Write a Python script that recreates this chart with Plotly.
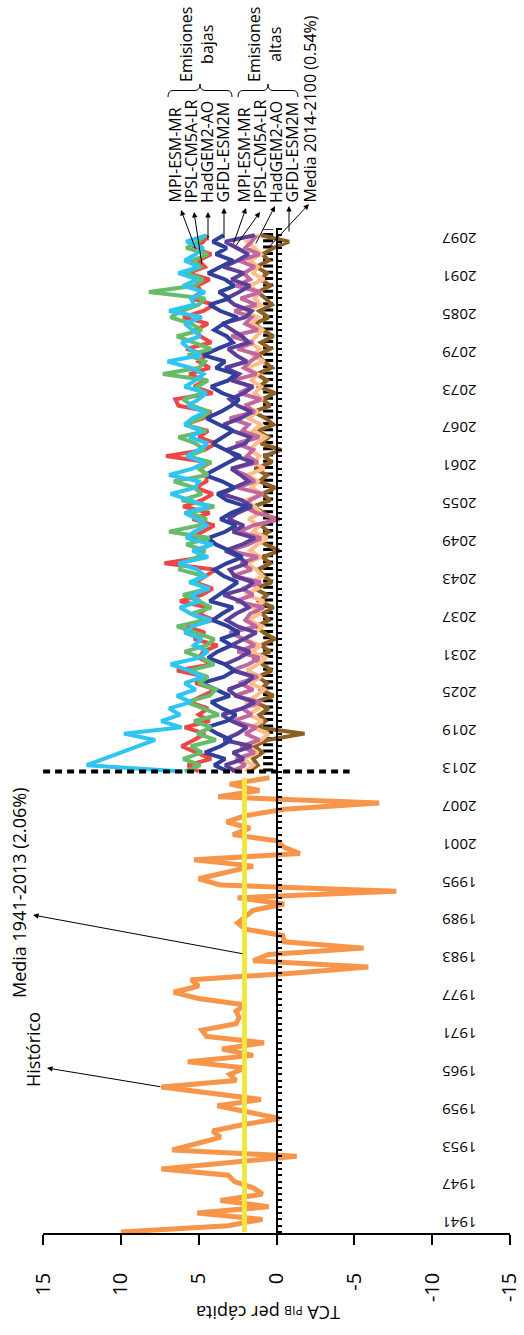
import plotly.graph_objects as go

# ---------------- data ----------------
hist_years = list(range(1941, 2014))
hist_values = [
    10.0, 3.1, 0.9, 5.1, 0.5, 3.6, 0.9, 1.5, 2.7, 3.1,
    7.4, 2.6, -1.3, 6.7, 5.0, 3.6, 4.1, 2.2, -0.2, 1.8,
    3.8, 1.0, 4.0, 7.4, 2.6, 3.0, 2.0, 5.7, 1.5, 3.5,
    0.8, 4.5, 4.8, 2.6, 2.4, 2.6, 2.0, 5.0, 6.6, 5.0,
    5.5, -1.0, -5.9, 1.5, 0.5, -5.6, -0.5, -0.4, 2.0, 2.5,
    2.0, 1.5, -0.5, 2.5, -7.7, 3.6, 5.0, 3.3, 1.5, 5.3,
    -1.5, -0.5, 0.0, 2.8, 1.7, 3.2, 2.0, -0.5, -6.6, 3.75,
    1.1, 3.0, 0.45,
]
hist_mean = 2.06          # media 1941-2013
proj_mean = 0.54          # media 2014-2100
split_year = 2014
proj_years = list(range(2014, 2100))

low_mpi = [
    6.0, 12.2, 11.1, 10.0, 8.9, 7.8, 9.8, 6.1, 7.4, 6.2,
    6.9, 5.5, 6.4, 5.2, 5.9, 4.7, 5.6, 6.8, 5.0, 4.4,
    5.3, 4.8, 5.9, 5.4, 4.2, 5.5, 6.2, 4.9, 5.5, 4.3,
    5.6, 4.6, 5.1, 6.3, 4.4, 5.4, 4.1, 5.8, 5.3, 4.5,
    5.1, 5.9, 4.3, 5.5, 6.8, 5.2, 5.0, 6.9, 5.4, 4.6,
    5.8, 5.0, 4.4, 5.6, 4.8, 5.9, 5.4, 4.6, 5.7, 5.0,
    4.5, 5.9, 5.2, 4.7, 5.5, 7.0, 4.9, 5.6, 6.1, 4.9,
    5.4, 5.9, 4.8, 6.9, 5.3, 5.5, 4.6, 6.0, 5.1, 6.3,
    5.0, 5.9, 5.2, 4.7, 5.8, 4.5,
]
low_ipsl = [
    5.0, 5.7, 4.2, 5.1, 6.1, 5.3, 4.6, 5.9, 4.3, 5.0,
    4.4, 5.6, 4.8, 3.9, 5.2, 4.5, 6.4, 4.1, 5.0, 4.7,
    3.8, 5.3, 4.6, 5.8, 4.0, 5.0, 4.4, 6.2, 4.8, 4.1,
    5.2, 4.5, 3.9, 7.2, 4.6, 5.1, 4.2, 5.5, 4.7, 4.0,
    5.4, 4.3, 6.0, 4.8, 4.1, 5.2, 4.5, 4.5, 4.9, 4.3,
    7.1, 4.6, 3.9, 5.0, 4.4, 5.9, 4.7, 4.2, 6.3, 6.5,
    4.1, 5.3, 4.6, 5.6, 4.3, 5.0, 4.5, 5.8, 4.2, 4.9,
    5.2, 4.4, 6.0, 4.7, 4.0, 5.5, 4.8, 5.1, 4.3, 5.7,
    4.6, 5.0, 4.2, 5.4, 4.7, 4.4,
]
low_hadgem = [
    5.9, 4.9, 6.0, 4.8, 5.5, 3.9, 5.1, 4.2, 5.3, 3.7,
    4.7, 5.8, 4.3, 3.9, 5.0, 4.4, 5.6, 4.0, 4.8, 5.9,
    4.5, 4.0, 5.2, 6.4, 4.6, 5.5, 4.2, 5.0, 6.0, 4.4,
    5.3, 4.7, 6.2, 6.1, 5.1, 4.6, 5.8, 4.3, 6.9, 5.0,
    4.5, 5.6, 4.0, 6.1, 4.8, 5.3, 6.6, 4.4, 5.0, 4.2,
    5.7, 4.6, 5.2, 6.3, 4.5, 5.9, 4.9, 4.3, 5.4, 6.0,
    4.7, 5.1, 4.4, 7.3, 5.0, 4.6, 5.7, 4.2, 5.3, 6.4,
    4.8, 5.5, 6.8, 6.1, 5.0, 4.6, 8.2, 5.3, 4.7, 5.9,
    4.9, 5.4, 4.4, 5.8, 5.0, 4.6,
]
low_gfdl = [
    3.1, 4.0, 3.3, 4.6, 3.6, 2.9, 3.8, 4.5, 3.2, 2.6,
    3.5, 4.2, 3.0, 3.9, 4.8, 3.4, 2.7, 3.3, 4.4, 3.8,
    2.9, 3.6, 2.4, 3.1, 4.1, 3.5, 2.8, 4.3, 3.7, 3.0,
    2.5, 3.4, 4.0, 3.2, 2.2, 3.0, 3.9, 4.4, 3.3, 2.6,
    3.6, 2.9, 1.9, 3.2, 3.8, 2.7, 3.5, 4.6, 3.9, 3.1,
    2.3, 3.3, 4.1, 3.4, 2.8, 3.7, 4.5, 3.6, 2.9, 2.4,
    3.5, 4.2, 3.1, 2.6, 3.9, 3.3, 4.7, 3.8, 2.8, 3.2,
    4.0, 3.4, 2.5, 3.6, 4.3, 3.0, 3.7, 2.7, 3.3, 4.4,
    3.6, 2.8, 3.9, 3.2, 4.1, 3.4,
]
high_mpi = [
    2.6, 3.3, 2.1, 2.8, 1.6, 3.4, 2.5, 1.9, 2.9, 3.5,
    2.2, 1.4, 2.6, 3.1, 2.0, 1.5, 2.7, 3.3, 2.4, 1.7,
    2.9, 2.1, 1.3, 2.5, 3.2, 2.6, 1.8, 2.3, 3.4, 2.0,
    1.5, 2.7, 3.0, 1.9, 2.4, 3.3, 2.2, 1.4, 2.8, 2.1,
    3.1, 2.5, 1.6, 2.2, 3.5, 2.7, 1.8, 2.3, 2.9, 1.5,
    2.6, 3.2, 2.0, 1.7, 2.8, 3.4, 2.3, 1.6, 2.5, 3.0,
    2.1, 1.5, 2.9, 2.4, 3.3, 1.9, 2.6, 3.1, 1.8, 2.2,
    2.8, 3.5, 2.0, 1.6, 2.7, 3.2, 2.4, 1.7, 2.9, 2.1,
    3.4, 2.5, 1.8, 2.6, 3.3, 1.4,
]
high_ipsl = [
    2.9, 2.0, 2.6, 1.4, 2.3, 1.1, 2.0, 1.3, 2.8, 1.6,
    2.2, 1.0, 2.7, 1.5, 2.4, 1.2, 2.9, 1.8, 1.1, 2.5,
    1.4, 2.1, 3.0, 1.3, 2.0, 1.7, 0.8, 2.6, 1.5, 2.2,
    1.0, 2.8, 1.6, 2.3, 1.2, 3.1, 1.8, 1.0, 2.4, 1.5,
    -0.2, 1.3, 2.1, 1.7, 0.9, 2.5, 1.4, 2.0, 2.9, 1.2,
    1.9, 1.5, 2.6, 1.1, 2.2, 1.8, 3.0, 1.4, 2.0, 1.0,
    2.4, 1.6, 2.8, 1.3, 2.1, 1.7, 1.1, 2.5, 1.5, 2.9,
    1.2, 2.0, 1.6, 2.7, 1.3, 2.3, 1.0, 2.6, 1.7, 2.1,
    1.4, 2.4, 1.1, 2.0, 1.6, 1.3,
]
high_hadgem = [
    2.0, 1.5, 2.2, 1.2, 1.9, 1.0, 0.5, 1.6, 0.9, 1.8,
    1.1, 2.0, 1.3, 0.8, 1.7, 1.0, 1.9, 1.2, 0.7, 1.6,
    1.0, 2.1, 1.4, 0.9, 1.8, 1.1, 1.5, 0.8, 2.0, 1.2,
    1.6, 0.9, 1.3, 1.9, 1.0, 1.7, 1.2, 0.6, 1.5, 1.1,
    1.8, 1.0, 1.4, 2.0, 0.9, 1.6, 1.2, 1.9, 0.8, 1.4,
    1.1, 1.7, 1.3, 0.7, 1.5, 1.0, 1.8, 1.2, 2.1, 0.9,
    1.4, 1.0, 1.6, 1.2, 1.9, 0.8, 1.5, 1.1, 1.7, 1.3,
    0.9, 1.6, 1.2, 2.0, 1.0, 1.4, 1.1, 1.8, 0.8, 1.5,
    1.2, 1.7, 1.0, 1.4, 1.9, 1.1,
]
high_gfdl = [
    1.8, 1.2, 1.5, 0.9, 1.4, 0.6, -1.8, 1.3, 0.7, 1.1,
    0.5, 1.4, 0.2, 1.0, 0.6, 1.2, 0.3, 0.9, 1.5, 0.4,
    1.0, 0.1, 0.8, 1.3, 0.5, 0.9, 0.2, 1.1, 0.6, 1.4,
    0.3, 0.8, 1.2, 0.4, 0.9, -0.2, 0.7, 1.3, 0.5, 1.0,
    0.2, 0.8, 1.5, 0.4, 0.9, 0.1, 1.1, 0.6, 1.4, 0.3,
    0.8, -0.3, 1.0, 0.5, 1.2, 0.2, 0.7, 1.5, 0.4, 0.9,
    0.1, 1.1, 0.6, 1.3, 0.3, 0.8, 1.2, 0.4, 1.0, 0.2,
    0.9, 1.4, 0.5, 1.1, 0.3, 0.7, 1.2, 0.4, 1.0, 0.6,
    1.3, 0.5, 0.9, 0.2, -0.8, 1.0,
]

value_ticks = [15, 10, 5, 0, -5, -10, -15]
value_tick_text = ["15", "10", "5", "0", "-5", "-10", "-15"]

# ---------------- figure ----------------
FONT = "Open Sans"
W, H = 524, 1335
ML, MR, MT, MB = 43, 14, 228, 102
X_RANGE = [15.005, -15.005]
Y_RANGE = [1940.84, 2100.16]

fig = go.Figure()

# projected series: (values, colour), drawn bottom to top
proj = [
    (low_ipsl, "#EE4646"),
    (high_gfdl, "#8C5F22"),
    (high_hadgem, "#FDBE8C"),
    (high_ipsl, "#C2689F"),
    (high_mpi, "#5D3F99"),
    (low_gfdl, "#2E3F9C"),
    (low_hadgem, "#66BC6A"),
    (low_mpi, "#2FC5F2"),
]

# mean 2014-2100 (thick dashed column at 0.54)
fig.add_trace(go.Scatter(
    x=[proj_mean, proj_mean], y=[split_year, 2100], mode="lines",
    line=dict(color="black", width=10, dash="3px,3.3px"),
    hoverinfo="skip"))

for vals, col in proj:
    fig.add_trace(go.Scatter(x=vals, y=proj_years, mode="lines",
                             line=dict(color=col, width=4), hoverinfo="skip"))

# historical series and its mean
fig.add_trace(go.Scatter(x=hist_values, y=hist_years, mode="lines",
                         line=dict(color="#F7964A", width=5), hoverinfo="skip"))
fig.add_trace(go.Scatter(x=[hist_mean] * len(hist_years), y=hist_years,
                         mode="lines", line=dict(color="#F2E641", width=5),
                         hoverinfo="skip"))

# separator between observed and projected periods
fig.add_trace(go.Scatter(x=[15, -4.7], y=[split_year, split_year], mode="lines",
                         line=dict(color="black", width=4, dash="7px,5px"),
                         hoverinfo="skip"))

# ---------------- annotation helpers ----------------
PW = W - ML - MR
PH = H - MT - MB


def px(xp, yp):
    """pixel -> paper coordinates"""
    return (xp - ML) / PW, (H - MB - yp) / PH


def label(text, xp, yp, size, angle=-90, xanchor="center", yanchor="middle", align="center"):
    x, y = px(xp, yp)
    fig.add_annotation(x=x, y=y, xref="paper", yref="paper", text=text,
                       showarrow=False, textangle=angle, xanchor=xanchor,
                       yanchor=yanchor, align=align,
                       font=dict(family=FONT, size=size, color="black"))


def arrow(head, tail):
    x, y = px(*head)
    fig.add_annotation(x=x, y=y, xref="paper", yref="paper", text="",
                       showarrow=True, ax=tail[0] - head[0], ay=tail[1] - head[1],
                       arrowhead=2, arrowsize=1.1, arrowwidth=1, arrowcolor="black",
                       standoff=0, startstandoff=0)


def brace(x0, x1, y_tip, y_base):
    xm = (x0 + x1) / 2
    ym = (y_tip + y_base) / 2
    r = 5
    pts = [(x0, y_base), (x0, ym), (x0 + r, ym), (xm - r, ym), (xm, ym), (xm, y_tip),
           (xm, ym), (xm + r, ym), (x1 - r, ym), (x1, ym), (x1, y_base)]
    p = [px(a, b) for a, b in pts]
    path = (f"M{p[0][0]},{p[0][1]} Q{p[1][0]},{p[1][1]} {p[2][0]},{p[2][1]} "
            f"L{p[3][0]},{p[3][1]} Q{p[4][0]},{p[4][1]} {p[5][0]},{p[5][1]} "
            f"Q{p[6][0]},{p[6][1]} {p[7][0]},{p[7][1]} L{p[8][0]},{p[8][1]} "
            f"Q{p[9][0]},{p[9][1]} {p[10][0]},{p[10][1]}")
    fig.add_shape(type="path", path=path, xref="paper", yref="paper",
                  line=dict(color="black", width=1))


# model labels above the projections
models = ["MPI-ESM-MR", "IPSL-CM5A-LR", "HadGEM2-AO", "GFDL-ESM2M"]
low_x = [175, 191, 207, 223]
high_x = [244, 260, 276, 292]
for name, xx in zip(models, low_x):
    label(name, xx, 205, 16, yanchor="bottom")
for name, xx in zip(models, high_x):
    label(name, xx, 205, 16, yanchor="bottom")
label("Media 2014-2100 (0.54%)", 310, 205, 16, yanchor="bottom")

brace(168, 232, 84, 97)
brace(238, 298, 84, 97)
label("Emisiones<br>bajas", 196, 45, 16)
label("Emisiones<br>altas", 264, 45, 16)

arrow((181, 210), (196, 250))
arrow((194, 212), (202, 265))
arrow((208, 212), (208, 242))
arrow((224, 208), (224, 240))
arrow((246, 208), (233, 245))
arrow((260, 212), (235, 247))
arrow((275, 206), (255, 245))
arrow((289, 206), (289, 233))
arrow((309, 204), (268, 248))

# left-hand notes
label("Histórico", 33, 1050, 18)
label("Media 1941-2013 (2.06%)", 19, 893, 18)
arrow((47, 1068), (162, 1087))
arrow((33, 915), (244, 954))

# axis title (upside down, under the value axis)
label("TCA <span style='font-size:12px'>PIB</span> per cápita", 268, 1313, 18, angle=180)

fig.update_layout(
    width=W, height=H,
    margin=dict(l=ML, r=MR, t=MT, b=MB, pad=0, autoexpand=False),
    paper_bgcolor="white", plot_bgcolor="white",
    showlegend=False,
    xaxis=dict(range=X_RANGE, tickvals=value_ticks, ticktext=value_tick_text,
               tickangle=-90, ticks="outside", ticklen=10, tickwidth=1.5,
               tickcolor="black", showline=True, linecolor="black", linewidth=1.5,
               showgrid=False, zeroline=False, ticklabelstandoff=20,
               ticklabeloverflow="allow", automargin=False,
               tickfont=dict(family=FONT, size=20, color="black")),
    yaxis=dict(range=Y_RANGE, tickmode="linear", tick0=1941, dtick=6,
               anchor="free", position=0.5, side="right", automargin=False,
               ticks="outside", ticklen=4, tickwidth=1.5, tickcolor="black",
               showline=True, linecolor="black", linewidth=2,
               showgrid=False, zeroline=False, tickangle=180,
               ticklabelstandoff=192, ticklabelshift=-5,
               minor=dict(dtick=1, tick0=1941, ticks="outside", ticklen=4,
                          tickwidth=1.5, tickcolor="black", showgrid=False),
               tickfont=dict(family=FONT, size=15, color="black")),
)

fig.write_html("out.html")
